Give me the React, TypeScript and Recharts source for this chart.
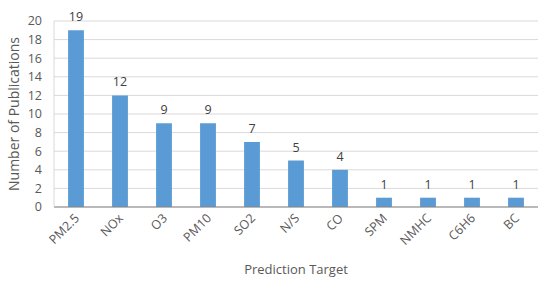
import { BarChart, Bar, XAxis, YAxis, CartesianGrid, LabelList } from 'recharts'

const targets = ['PM2.5', 'NOx', 'O3', 'PM10', 'SO2', 'N/S', 'CO', 'SPM', 'NMHC', 'C6H6', 'BC']
const publications = [19, 12, 9, 9, 7, 5, 4, 1, 1, 1, 1]
const yTicks = [0, 2, 4, 6, 8, 10, 12, 14, 16, 18, 20]

const FONT = '"Open Sans", "Liberation Sans", sans-serif'
const TEXT = '#595959'

const data = targets.map((name, i) => ({ name, value: publications[i] }))

// slanted category labels, right end pinned just under the axis
function SlantTick({ x, y, payload }: any) {
  return (
    <text
      x={x + 4}
      y={y + 10}
      transform={`rotate(-45, ${x + 4}, ${y + 10})`}
      textAnchor="end"
      fontSize={12.5}
      fontFamily={FONT}
      fill={TEXT}
    >
      {payload.value}
    </text>
  )
}

export default function App() {
  return (
    <div style={{ position: 'absolute', left: 0, top: 0, width: 550, height: 284, background: '#fff' }}>
      <BarChart
        width={550}
        height={284}
        data={data}
        margin={{ top: 21, right: 12, bottom: 10, left: 0 }}
        barCategoryGap="68%"
      >
        <CartesianGrid vertical={false} stroke="#d9d9d9" />
        <XAxis
          dataKey="name"
          interval={0}
          height={67}
          tickLine={false}
          tickSize={0}
          stroke="#868686"
          tick={<SlantTick />}
          label={{ value: 'Prediction Target', position: 'insideBottom', offset: 0, fill: TEXT, fontSize: 13, fontFamily: FONT }}
        />
        <YAxis
          width={54}
          domain={[0, 20]}
          ticks={yTicks}
          interval={0}
          tickLine={false}
          tickSize={0}
          tickMargin={12}
          stroke="#d9d9d9"
          tick={{ fill: TEXT, fontSize: 12.5, fontFamily: FONT }}
          label={{ value: 'Number  of Publications', angle: -90, position: 'insideLeft', offset: 14, fill: TEXT, fontSize: 14, fontFamily: FONT, style: { textAnchor: 'middle', whiteSpace: 'pre' } }}
        />
        <Bar dataKey="value" fill="#5b9bd5" isAnimationActive={false}>
          <LabelList dataKey="value" position="top" offset={9} fill="#404040" fontSize={12.5} fontFamily={FONT} />
        </Bar>
      </BarChart>
    </div>
  )
}
